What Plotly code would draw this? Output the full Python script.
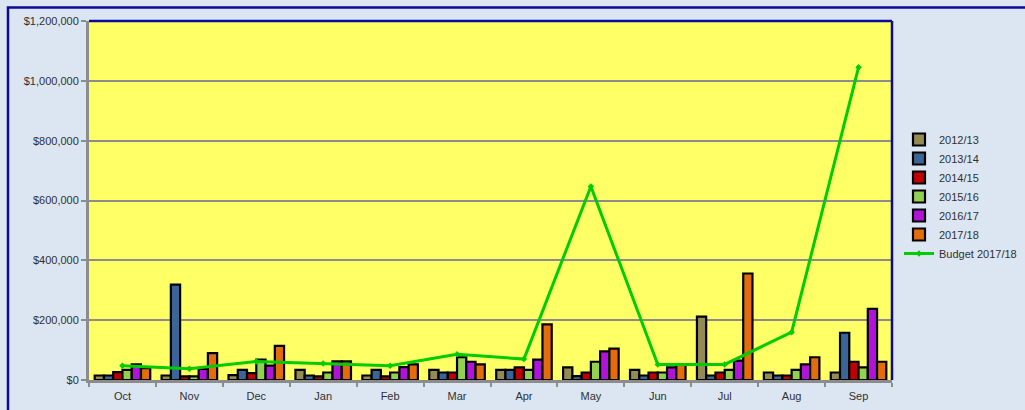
import plotly.graph_objects as go

months = ["Oct", "Nov", "Dec", "Jan", "Feb", "Mar", "Apr", "May", "Jun", "Jul", "Aug", "Sep"]
fy_2012_13 = [15000, 15000, 16000, 34000, 15000, 34000, 34000, 42000, 34000, 212000, 25000, 25000]
fy_2013_14 = [15000, 319000, 34000, 15000, 34000, 25000, 34000, 13000, 15000, 15000, 15000, 158000]
fy_2014_15 = [26000, 12000, 23000, 12000, 12000, 25000, 42000, 25000, 25000, 25000, 15000, 61000]
fy_2015_16 = [34000, 12000, 68000, 25000, 25000, 76000, 34000, 61000, 25000, 34000, 34000, 42000]
fy_2016_17 = [52000, 37000, 48000, 62000, 43000, 61000, 68000, 96000, 42000, 65000, 52000, 238000]
fy_2017_18 = [40000, 90000, 114000, 62000, 52000, 52000, 186000, 105000, 52000, 356000, 76000, 61000]
budget_2017_18 = [48000, 38000, 62000, 55000, 48000, 86000, 70000, 647000, 52000, 52000, 160000, 1045000]

series = [
    ("2012/13", fy_2012_13, "#948A54"),
    ("2013/14", fy_2013_14, "#3A6596"),
    ("2014/15", fy_2014_15, "#C00000"),
    ("2015/16", fy_2015_16, "#92D050"),
    ("2016/17", fy_2016_17, "#B014D8"),
    ("2017/18", fy_2017_18, "#E46C0A"),
]

fig = go.Figure()
for name, vals, col in series:
    fig.add_trace(go.Bar(
        x=months, y=vals, name=name,
        marker=dict(color=col, line=dict(color="black", width=2.2)),
    ))
fig.add_trace(go.Scatter(
    x=months, y=budget_2017_18, name="Budget 2017/18", mode="lines+markers",
    line=dict(color="#00CC00", width=3),
    marker=dict(symbol="diamond", size=5, color="#00CC00"),
))

W, H = 1025, 410
L, R, T, B = 89, 892, 21, 380
pw, ph = R - L, B - T

def px(x):
    return (x - L) / pw

def py(y):
    return (B - y) / ph

fig.update_layout(
    width=W, height=H,
    margin=dict(l=L, r=W - R, t=T, b=H - B, autoexpand=False),
    paper_bgcolor="#DCE6F2",
    plot_bgcolor="#FFFF66",
    barmode="group",
    bargap=0.17,
    bargroupgap=0,
    font=dict(family="Liberation Sans", size=11, color="#303030"),
    showlegend=True,
    legend=dict(
        x=px(899), y=py(125), xanchor="left", yanchor="top",
        bgcolor="rgba(0,0,0,0)", font=dict(size=11, color="#303030"),
        tracegroupgap=0, itemwidth=30,
    ),
    xaxis=dict(
        range=[-0.5, len(months) - 0.5],
        showgrid=False, showline=True, linecolor="#8C8C8C", linewidth=3,
        ticks="outside", tickson="boundaries", ticklen=4, tickcolor="#8C8C8C", tickwidth=2,
        tickfont=dict(size=11, color="#303030"), ticklabelstandoff=4,
    ),
    yaxis=dict(
        range=[0, 1200000], dtick=200000, tickformat="$,.0f",
        showgrid=True, gridcolor="#8C8C8C", gridwidth=2,
        showline=True, linecolor="#8C8C8C", linewidth=3,
        ticks="outside", ticklen=5, tickcolor="#8C8C8C", tickwidth=2,
        tickfont=dict(size=11, color="#303030"), zeroline=False,
    ),
    shapes=[
        dict(type="line", xref="paper", yref="paper", x0=0, x1=1, y0=1, y1=1,
             line=dict(color="#0A0A9A", width=2.5)),
        dict(type="line", xref="paper", yref="paper", x0=1, x1=1, y0=0, y1=1,
             line=dict(color="#0A0A9A", width=2.5)),
        dict(type="rect", xref="paper", yref="paper",
             x0=px(8), x1=px(1040), y0=py(425), y1=py(7.5),
             line=dict(color="#0A0A9A", width=2.5), fillcolor="rgba(0,0,0,0)"),
    ],
)

fig.write_html("out.html")
